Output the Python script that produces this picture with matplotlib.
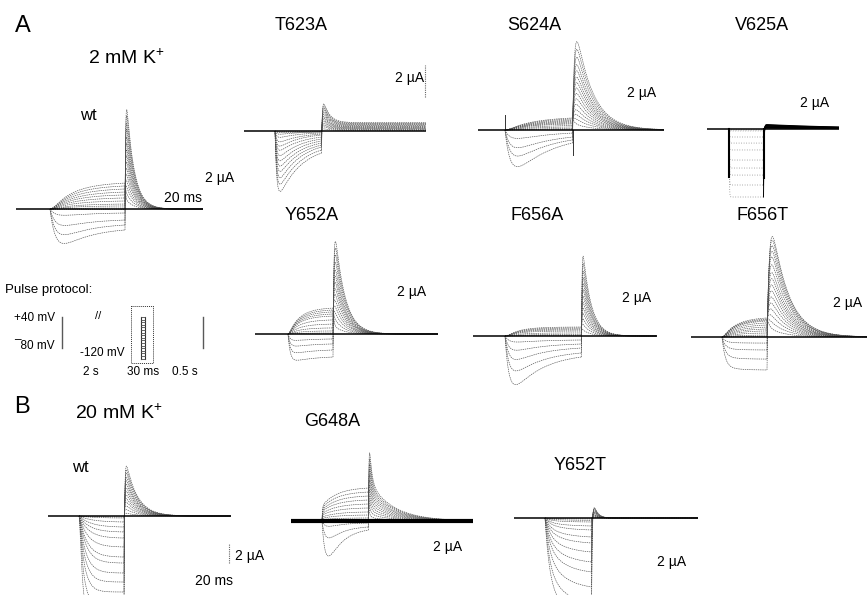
import numpy as np
import matplotlib
matplotlib.use('Agg')
import matplotlib.pyplot as plt

plt.rcParams['font.family'] = ['Liberation Sans', 'DejaVu Sans']
plt.rcParams['mathtext.default'] = 'regular'

W, H = 867, 595
SX = 1.5          # px per ms (time scale of the traces)

# ---------------- data (currents in µA) ----------------
# A, 2 mM K+
wtA_I0   = [0, 0, 0, 0, 0, 0, 0, 0, 0, 0, 0, -0.56, -1.44, -2.31, -3.12]
wtA_Iend = [1.62, 1.44, 1.25, 1.06, 0.88, 0.69, 0.50, 0.31, 0.19, 0.06, 0.0, -0.25, -0.69, -1.00, -1.31]
wtA_tail = [0.5, 0.9, 1.3, 1.7, 2.1, 2.5, 2.9, 3.3, 3.7, 4.1, 4.5, 5.0, 5.4, 5.9, 6.3]

T623A_I0   = [-0.06, -0.12, -0.26, -0.51, -0.88, -1.23, -1.55, -1.97, -2.39, -2.81, -3.23, -3.75, -4.24, -4.81]
T623A_Iend = [-0.03, -0.06, -0.06, -0.12, -0.19, -0.25, -0.38, -0.50, -0.62, -0.75, -0.88, -1.00, -1.19, -1.38]
T623A_tail = [0.10, 0.20, 0.28, 0.36, 0.45, 0.53, 0.62, 0.70, 0.80, 0.90, 1.00, 1.10, 1.20, 1.31]

S624A_I0   = [0, 0, 0, 0, 0, 0, 0, 0, 0, 0, 0, -0.81, -1.69, -2.50, -3.55]
S624A_Iend = [0.75, 0.69, 0.62, 0.56, 0.50, 0.44, 0.38, 0.28, 0.19, 0.09, 0.03, -0.19, -0.44, -0.62, -0.81]
S624A_tail = [0.3, 0.6, 0.9, 1.2, 1.55, 1.9, 2.25, 2.6, 2.95, 3.3, 3.7, 4.1, 4.6, 5.1, 5.6]
S624A_cap  = [0.94, -1.56]

V625A_I0   = [-0.06, -0.12, -0.50, -0.88, -1.31, -1.94, -2.44, -2.88, -3.50, -4.25]
V625A_Iend = [-0.06, -0.12, -0.50, -0.88, -1.31, -1.94, -2.44, -2.88, -3.50, -4.25]
V625A_tail = [0.05, 0.08, 0.10, 0.12, 0.15, 0.18, 0.20, 0.22, 0.25, 0.28]
V625A_edge = [-3.00, -3.06]

Y652A_I0   = [0, 0, 0, 0, 0, 0, 0, 0, 0, 0, -0.46, -0.86, -1.31, -1.81]
Y652A_Iend = [1.62, 1.50, 1.38, 1.25, 1.12, 0.88, 0.62, 0.38, 0.19, 0.06, -0.31, -0.62, -1.00, -1.44]
Y652A_tail = [0.4, 0.8, 1.2, 1.6, 2.0, 2.4, 2.8, 3.2, 3.6, 4.0, 4.5, 5.0, 5.45, 5.9]

F656A_I0   = [0, 0, 0, 0, 0, 0, 0, 0, -0.49, -1.21, -2.04, -3.05, -4.34]
F656A_Iend = [0.56, 0.50, 0.44, 0.38, 0.31, 0.19, 0.09, 0.03, -0.25, -0.50, -0.75, -1.06, -1.31]
F656A_tail = [0.35, 0.7, 1.05, 1.4, 1.75, 2.1, 2.5, 2.9, 3.3, 3.7, 4.1, 4.6, 5.06]

F656T_I0   = [0, 0, 0, 0, 0, 0, 0, 0, 0, 0, 0, 0, -0.31, -0.69, -1.19, -1.81]
F656T_Iend = [1.19, 1.12, 1.06, 1.00, 0.88, 0.75, 0.62, 0.50, 0.38, 0.25, 0.12, 0.03, -0.38, -0.81, -1.38, -2.06]
F656T_tail = [0.4, 0.8, 1.2, 1.6, 2.0, 2.4, 2.8, 3.2, 3.6, 4.0, 4.5, 5.0, 5.4, 5.8, 6.2, 6.5]

# B, 20 mM K+
wtB_I0   = [0, 0, 0, 0, 0, 0, 0, 0, 0, 0, 0, 0, 0, 0]
wtB_Iend = [-0.10, -0.21, -0.63, -1.16, -1.68, -2.32, -3.26, -4.32, -4.95, -6.00, -6.95, -8.00, -9.47, -11.58]
wtB_tau  = [12, 10, 9, 8, 7, 6.5, 6, 5.5, 5, 4.5, 4, 3.5, 3, 2.5]
wtB_tail = [0.3, 0.7, 1.1, 1.5, 1.9, 2.3, 2.7, 3.1, 3.5, 3.9, 4.3, 4.75, 5.15, 5.58]

G648A_I0   = [1.58, 1.37, 1.16, 1.00, 0.79, 0.63, 0.42, 0.28, 0.14, -0.95, -3.05, -6.53]
G648A_Iend = [3.47, 3.05, 2.63, 2.21, 1.79, 1.37, 0.95, 0.63, 0.32, -0.21, -0.63, -0.95]
G648A_tail = [0.6, 1.2, 1.8, 2.4, 3.0, 3.6, 4.2, 4.8, 5.4, 6.0, 6.6, 7.26]

Y652T_I0   = [-0.05, -0.10, -0.21, -0.37, -0.53, -0.84, -1.16, -1.58, -2.11, -2.74, -3.68, -5.05, -6.32]
Y652T_Iend = [-0.10, -0.25, -0.42, -0.84, -1.26, -2.00, -2.63, -3.58, -4.63, -5.68, -7.26, -8.95, -10.53]
Y652T_tail = [0.10, 0.20, 0.30, 0.40, 0.50, 0.65, 0.80, 0.95, 1.10, 1.25, 1.40, 1.55, 1.68]

# pulse protocol (mV)
protocol_steps_mV = [40, 30, 20, 10, 0, -10, -20, -30, -40, -50, -60, -70, -80, -90, -100, -110, -120]
protocol_bar_mV = [-80, 40]

# ---------------- drawing ----------------
fig = plt.figure(figsize=(W / 100, H / 100), dpi=100)


def fx(x):
    return x / W


def fy(y):
    return 1 - y / H


def txt(x, y, s, size, **kw):
    fig.text(fx(x), fy(y), s, fontsize=size, ha='left', va='center', **kw)


def panel_axes(x0, y0, sy, tmin, tmax, imin=-14, imax=9):
    left = x0 + tmin * SX
    right = x0 + tmax * SX
    top = y0 - imax * sy
    bottom = y0 - imin * sy
    ax = fig.add_axes([fx(left), fy(bottom), (right - left) / W, (bottom - top) / H])
    ax.set_xlim(tmin, tmax)
    ax.set_ylim(imin, imax)
    ax.axis('off')
    return ax


def draw_panel(p):
    x0, y0, sy = p['x0'], p['y0'], p['sy']
    pre, T, post = p['pre'], p['T'], p['post']
    ax = panel_axes(x0, y0, sy, -pre, T + post)
    ax.plot([-pre, T + post], [0, 0], color='k', lw=p.get('base_lw', 1.1), solid_capstyle='butt', zorder=3)
    I0s, Iends, tails = p['I0'], p['Iend'], p['tail']
    n = len(Iends)
    tau_dn = np.broadcast_to(np.asarray(p['tau_dn'], float), (n,))
    ton_up, ton_dn = p['tau_on']
    tp = np.linspace(0, T, 400)
    tt = np.concatenate([np.linspace(0, 4, 200), np.linspace(4, post, 400)[1:]])
    f = p.get('f_fast', 0.0)
    dec = f * np.exp(-tt / p.get('tau_f', 1.0)) + (1 - f) * np.exp(-tt / p['tau_s'])
    rise = 1 - np.exp(-tt / p['tau_r'])
    shape = dec * rise
    shape = shape / shape.max()
    for i in range(n):
        I0, Iend = I0s[i], Iends[i]
        up = Iend >= 0 and I0 >= 0
        tau = p['tau_up'] if up else tau_dn[i]
        ton = ton_up if up else ton_dn
        g = (np.exp(-tp / tau) - np.exp(-T / tau)) / (1 - np.exp(-T / tau))
        Ip = (Iend + (I0 - Iend) * g) * (1 - np.exp(-tp / ton))
        res = p.get('res', 0.0) * tails[i]
        It = Iend * np.exp(-tt / p['tau_r']) + tails[i] * shape + res * rise
        ax.plot(tp, Ip, **p['pulse_style'])
        ax.plot(T + tt, It, **p['tail_style'])
    return ax


dash = dict(color='0.3', lw=0.45, ls=(0, (2.2, 1.3)))

panels = {
    'wtA': dict(x0=50, y0=209, sy=16, pre=23, T=50, post=52, I0=wtA_I0, Iend=wtA_Iend, tail=wtA_tail,
                tau_up=16, tau_dn=20, tau_on=(4, 4), tau_r=0.4, tau_s=5.0),
    'T623A': dict(x0=275, y0=131, sy=16, pre=21, T=31, post=70, I0=T623A_I0, Iend=T623A_Iend, tail=T623A_tail,
                  tau_up=10, tau_dn=15, tau_on=(1.2, 1.2), tau_r=0.5, tau_s=4.0, res=0.4),
    'S624A': dict(x0=505, y0=130, sy=16, pre=18, T=45, post=61, I0=S624A_I0, Iend=S624A_Iend, tail=S624A_tail,
                  tau_up=20, tau_dn=25, tau_on=(4, 4), tau_r=1.2, tau_s=11.0),
    'V625A': dict(x0=729, y0=129, sy=16, pre=15, T=23, post=50, I0=V625A_I0, Iend=V625A_Iend, tail=V625A_tail,
                  tau_up=10, tau_dn=10, tau_on=(0.2, 0.2), tau_r=0.3, tau_s=60.0),
    'Y652A': dict(x0=288, y0=334, sy=16, pre=22, T=30, post=70, I0=Y652A_I0, Iend=Y652A_Iend, tail=Y652A_tail,
                  tau_up=8, tau_dn=15, tau_on=(1.5, 1.5), tau_r=0.6, tau_s=6.5),
    'F656A': dict(x0=505, y0=336, sy=16, pre=21, T=51, post=50, I0=F656A_I0, Iend=F656A_Iend, tail=F656A_tail,
                  tau_up=10, tau_dn=20, tau_on=(3, 3), tau_r=0.35, tau_s=5.5),
    'F656T': dict(x0=722, y0=337, sy=16, pre=21, T=30, post=67, I0=F656T_I0, Iend=F656T_Iend, tail=F656T_tail,
                  tau_up=10, tau_dn=8, tau_on=(2, 2), tau_r=1.5, tau_s=11.0),
    'wtB': dict(x0=79, y0=516, sy=9.5, pre=21, T=30, post=71, I0=wtB_I0, Iend=wtB_Iend, tail=wtB_tail,
                tau_up=8, tau_dn=wtB_tau, tau_on=(0.8, 0.8), tau_r=0.4, tau_s=7.5),
    'G648A': dict(x0=322, y0=521, sy=9.5, pre=21, T=31, post=70, I0=G648A_I0, Iend=G648A_Iend, tail=G648A_tail,
                  tau_up=10, tau_dn=10, tau_on=(0.3, 2.5), tau_r=0.3, f_fast=0.6, tau_f=1.5, tau_s=16.0,
                  base_lw=3.0),
    'Y652T': dict(x0=545, y0=518, sy=9.5, pre=21, T=31, post=71, I0=Y652T_I0, Iend=Y652T_Iend, tail=Y652T_tail,
                  tau_up=10, tau_dn=12, tau_on=(1.0, 2.5), tau_r=0.5, tau_s=2.5),
}
for k, p in panels.items():
    p.setdefault('pulse_style', dash)
    p.setdefault('tail_style', dash)
panels['V625A']['pulse_style'] = dict(color='0.55', lw=0.6, ls=(0, (1, 2.0)))
panels['V625A']['tail_style'] = dict(color='k', lw=0.7, ls='-')

axes = {k: draw_panel(p) for k, p in panels.items()}

# capacitive artefacts / solid edges
pS = panels['S624A']
axes['S624A'].plot([0, 0], [0, S624A_cap[0]], color='0.2', lw=0.7)
axes['S624A'].plot([pS['T'], pS['T']], [0, S624A_cap[1]], color='0.2', lw=0.7)
pV = panels['V625A']
axes['V625A'].plot([0, 0], [0, V625A_edge[0]], color='k', lw=1.5)
axes['V625A'].plot([pV['T'], pV['T']], [0, V625A_edge[1]], color='k', lw=1.5)


# scale bars (2 µA)
def scalebar(ax, t, ibot, size=2.0):
    ax.plot([t, t], [ibot, ibot + size], color='0.4', lw=0.8, ls=(0, (1, 1)), clip_on=False)


scalebar(axes['T623A'], 100, 2.125)
scalebar(axes['wtB'], 100, -4.95)

# ---------------- protocol ----------------
PY0, PMV = 317, 0.26  # px of +40 mV, px per mV
mv_top, mv_bot = 90, -150
ytop = PY0 - (mv_top - 40) * PMV
ybot = PY0 + (40 - mv_bot) * PMV
axp = fig.add_axes([0, fy(ybot), 230 / W, (ybot - ytop) / H])
axp.set_xlim(0, 230)
axp.set_ylim(mv_bot, mv_top)
axp.axis('off')
axp.plot([62, 62], protocol_bar_mV, color='0.35', lw=1.0)
axp.plot([203, 203], protocol_bar_mV, color='0.35', lw=1.0)
axp.plot([141, 141], [protocol_steps_mV[0], protocol_steps_mV[-1]], color='0.2', lw=0.8)
axp.plot([145, 145], [protocol_steps_mV[0], protocol_steps_mV[-1]], color='0.2', lw=0.8)
for v in protocol_steps_mV:
    axp.plot([141, 145], [v, v], color='0.3', lw=0.6)
axp.plot([131, 153, 153, 131, 131], [82, 82, -137, -137, 82], color='0.2', lw=0.7, ls=(0, (1, 1)))

# ---------------- texts ----------------
txt(15, 26, 'A', 17)
txt(88, 58, '2 mM K$^{+}$', 14)
txt(80, 116, 'wt', 12)
txt(275, 26, 'T623A', 13)
txt(507, 26, 'S624A', 13)
txt(735, 26, 'V625A', 13)
txt(285, 215, 'Y652A', 13)
txt(510, 215, 'F656A', 13)
txt(737, 215, 'F656T', 13)

txt(205, 178, '2 µA', 10)
txt(164, 198, '20 ms', 10)
txt(395, 78, '2 µA', 10)
txt(627, 93, '2 µA', 10)
txt(800, 103, '2 µA', 10)
txt(397, 292, '2 µA', 10)
txt(622, 298, '2 µA', 10)
txt(833, 303, '2 µA', 10)

txt(5, 290, 'Pulse protocol:', 9.5)
txt(14, 318, '+40 mV', 8.5)
txt(14, 346, '¯80 mV', 8.5)
txt(95, 316, '//', 8)
txt(80, 353, '-120 mV', 8.5)
txt(83, 372, '2 s', 8.5)
txt(127, 372, '30 ms', 8.5)
txt(172, 372, '0.5 s', 8.5)

txt(14, 407, 'B', 17)
txt(75, 413, '20 mM K$^{+}$', 14)
txt(72, 468, 'wt', 12)
txt(304, 422, 'G648A', 13)
txt(554, 466, 'Y652T', 13)
txt(235, 556, '2 µA', 10)
txt(195, 581, '20 ms', 10)
txt(433, 547, '2 µA', 10)
txt(657, 562, '2 µA', 10)

fig.savefig('out.png', dpi=100)
